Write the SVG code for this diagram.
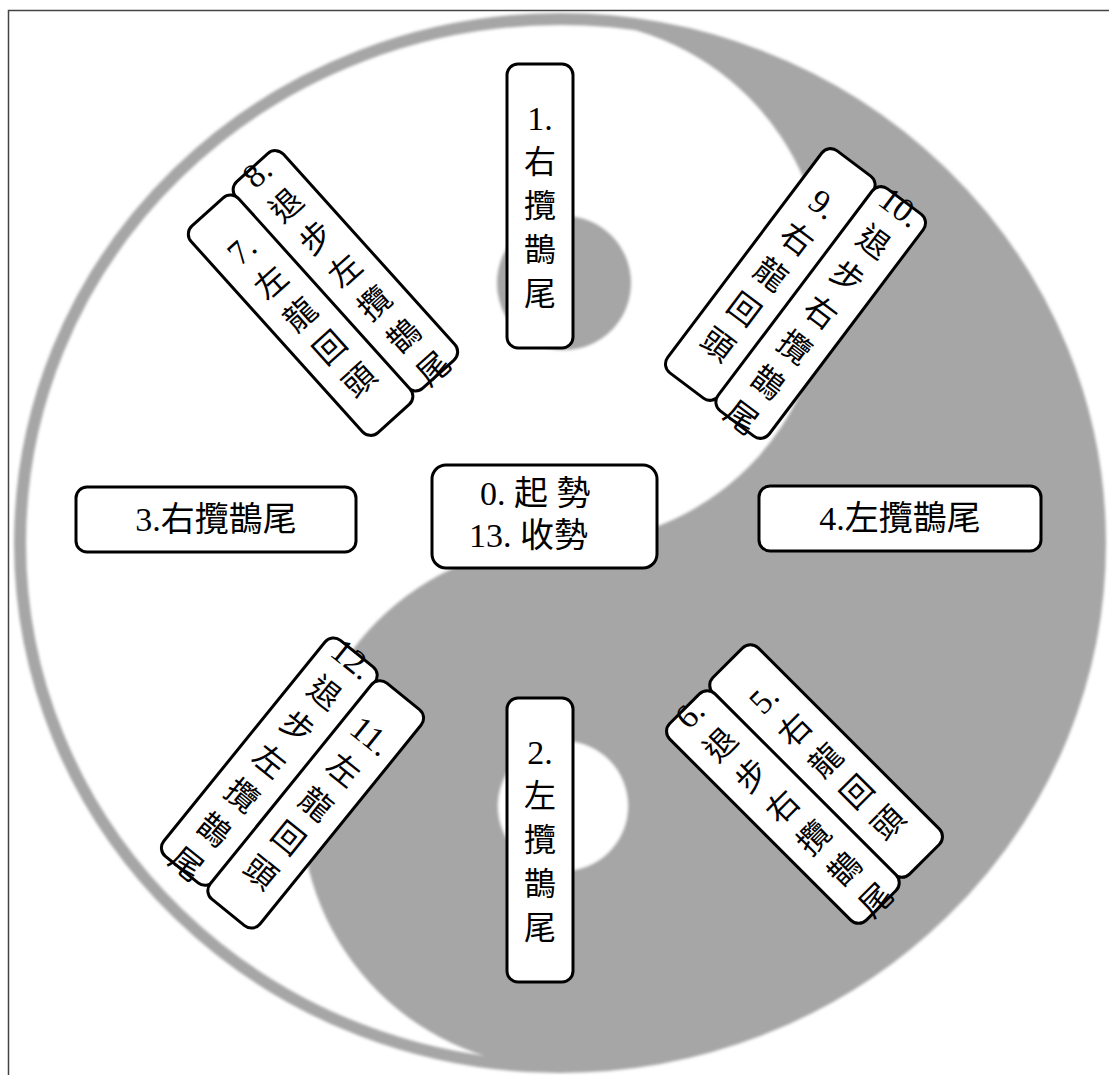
<svg xmlns="http://www.w3.org/2000/svg" width="1109" height="1075" viewBox="0 0 1109 1075">
<style>
.box{fill:#fff;stroke:#000;stroke-width:3}
.t{font-family:"Liberation Serif","Noto Sans CJK TC",serif;font-size:32px;fill:#000;text-anchor:middle;dominant-baseline:central}
.d{font-size:34px}
.h{font-size:34px}
.s{text-anchor:start}
.grey{fill:#a6a6a6}
</style>
<defs>
<filter id="soft" x="-5%" y="-5%" width="110%" height="110%"><feGaussianBlur stdDeviation="1.4"/></filter>
<clipPath id="outer"><ellipse cx="560" cy="543" rx="545" ry="529"/></clipPath>
</defs>
<rect x="0" y="0" width="1109" height="1075" fill="#fff"/>
<rect x="8.5" y="10.5" width="1120" height="1100" fill="none" stroke="#444" stroke-width="1.5"/>
<g id="yinyang" filter="url(#soft)">
<path class="grey" clip-path="url(#outer)" d="M563,20 A262,262 0 0 1 563,544 A262,262 0 0 0 563,1068 L563,1100 L1120,1100 L1120,0 L563,0 Z"/>
<ellipse cx="560" cy="543" rx="540" ry="524" fill="none" stroke="#a6a6a6" stroke-width="12"/>
<circle class="grey" cx="564" cy="283" r="67"/>
<circle cx="563" cy="806" r="65" fill="#fff"/>
</g>
<g id="connectors"></g>
<g id="n0">
<rect class="box" x="432" y="465" width="225" height="103" rx="14"/>
<text class="t h s" x="480" y="493">0. 起 勢</text>
<text class="t h s" x="469" y="535">13. 收勢</text>
</g>
<g id="n1" transform="translate(540,206)">
<rect class="box" x="-33" y="-142" width="66" height="284" rx="11"/>
<text class="t d" x="0" y="-88">1.</text><text class="t" x="0" y="-44">右</text><text class="t" x="0" y="0">攬</text><text class="t" x="0" y="44">鵲</text><text class="t" x="0" y="88">尾</text>
</g>
<g id="n2" transform="translate(540,840)">
<rect class="box" x="-33" y="-142" width="66" height="284" rx="11"/>
<text class="t d" x="0" y="-88">2.</text><text class="t" x="0" y="-44">左</text><text class="t" x="0" y="0">攬</text><text class="t" x="0" y="44">鵲</text><text class="t" x="0" y="88">尾</text>
</g>
<g id="n3">
<rect class="box" x="76" y="487" width="280" height="65" rx="11"/>
<text class="t h" x="216" y="519">3.右攬鵲尾</text>
</g>
<g id="n4">
<rect class="box" x="759" y="486" width="282" height="65" rx="11"/>
<text class="t h" x="900" y="518">4.左攬鵲尾</text>
</g>
<g id="n8" transform="translate(345.4,270.8) rotate(-42)">
<rect class="box" x="-32" y="-139" width="64" height="278" rx="11"/>
<text class="t d" x="0" y="-132">8.</text><text class="t" x="0" y="-88">退</text><text class="t" x="0" y="-44">步</text><text class="t" x="0" y="0">左</text><text class="t" x="0" y="44">攬</text><text class="t" x="0" y="88">鵲</text><text class="t" x="0" y="132">尾</text>
</g>
<g id="n7" transform="translate(300.6,315.2) rotate(-42)">
<rect class="box" x="-32" y="-139" width="64" height="278" rx="11"/>
<text class="t d" x="0" y="-88">7.</text><text class="t" x="0" y="-44">左</text><text class="t" x="0" y="0">龍</text><text class="t" x="0" y="44">回</text><text class="t" x="0" y="88">頭</text>
</g>
<g id="n9" transform="translate(770.3,274.5) rotate(37)">
<rect class="box" x="-32" y="-139" width="64" height="278" rx="11"/>
<text class="t d" x="0" y="-88">9.</text><text class="t" x="0" y="-44">右</text><text class="t" x="0" y="0">龍</text><text class="t" x="0" y="44">回</text><text class="t" x="0" y="88">頭</text>
</g>
<g id="n10" transform="translate(820.7,312.5) rotate(37)">
<rect class="box" x="-32" y="-139" width="64" height="278" rx="11"/>
<text class="t d" x="0" y="-132">10.</text><text class="t" x="0" y="-88">退</text><text class="t" x="0" y="-44">步</text><text class="t" x="0" y="0">右</text><text class="t" x="0" y="44">攬</text><text class="t" x="0" y="88">鵲</text><text class="t" x="0" y="132">尾</text>
</g>
<g id="n12" transform="translate(269.3,761.6) rotate(39)">
<rect class="box" x="-32" y="-139" width="64" height="278" rx="11"/>
<text class="t d" x="0" y="-132">12.</text><text class="t" x="0" y="-88">退</text><text class="t" x="0" y="-44">步</text><text class="t" x="0" y="0">左</text><text class="t" x="0" y="44">攬</text><text class="t" x="0" y="88">鵲</text><text class="t" x="0" y="132">尾</text>
</g>
<g id="n11" transform="translate(315.7,804.4) rotate(39)">
<rect class="box" x="-32" y="-139" width="64" height="278" rx="11"/>
<text class="t d" x="0" y="-88">11.</text><text class="t" x="0" y="-44">左</text><text class="t" x="0" y="0">龍</text><text class="t" x="0" y="44">回</text><text class="t" x="0" y="88">頭</text>
</g>
<g id="n5" transform="translate(826.1,761) rotate(-45)">
<rect class="box" x="-32" y="-139" width="64" height="278" rx="11"/>
<text class="t d" x="0" y="-88">5.</text><text class="t" x="0" y="-44">右</text><text class="t" x="0" y="0">龍</text><text class="t" x="0" y="44">回</text><text class="t" x="0" y="88">頭</text>
</g>
<g id="n6" transform="translate(782.9,807) rotate(-45)">
<rect class="box" x="-32" y="-139" width="64" height="278" rx="11"/>
<text class="t d" x="0" y="-132">6.</text><text class="t" x="0" y="-88">退</text><text class="t" x="0" y="-44">步</text><text class="t" x="0" y="0">右</text><text class="t" x="0" y="44">攬</text><text class="t" x="0" y="88">鵲</text><text class="t" x="0" y="132">尾</text>
</g>
</svg>
